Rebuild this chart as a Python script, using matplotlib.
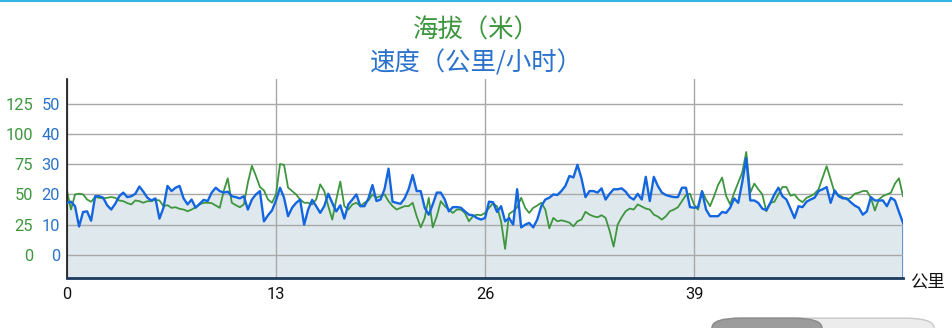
import matplotlib
matplotlib.use("Agg")
import matplotlib.pyplot as plt
import numpy as np
from matplotlib.patches import FancyBboxPatch
from matplotlib.lines import Line2D

# distance samples (km), every 0.25 km
km = np.arange(0, 52.0001, 0.25)

# speed (km/h), blue series
speed = [
    17.2, 17.6, 16.1, 9.4, 14.2, 14.4, 11.3, 19.4, 19.4, 18.9,
    16.4, 15.0, 16.9, 19.4, 20.6, 19.1, 19.4, 20.2, 22.6, 20.9,
    18.9, 18.0, 18.7, 12.0, 15.6, 22.8, 21.1, 22.2, 22.8, 18.7,
    16.7, 18.3, 15.6, 16.9, 18.2, 17.8, 20.6, 22.2, 21.1, 20.6,
    20.9, 19.4, 19.1, 18.7, 19.4, 15.0, 18.3, 20.0, 21.1, 11.1,
    13.1, 14.7, 18.0,
    22.2, 18.9, 12.8, 15.6, 17.2, 18.3, 10.0, 15.0, 18.2, 16.1,
    13.9, 16.1, 20.2, 17.2, 14.4, 16.4, 12.0, 16.7, 18.3, 20.0,
    16.1, 16.1, 18.7, 23.1, 17.8, 18.3, 21.7, 28.5, 17.6, 17.2,
    16.9, 18.7, 21.7, 26.4, 21.1, 21.1, 15.6, 13.3, 16.7, 20.6,
    20.6, 18.3, 14.4, 15.8, 15.8, 15.6, 14.4, 13.3, 13.1, 12.2,
    11.7, 12.2,
    17.6, 17.4, 14.2, 16.1, 11.1, 12.2, 10.0, 21.7, 9.1, 10.0,
    10.6, 9.1, 11.7, 16.1, 18.3, 18.9, 20.0, 19.8, 21.1, 22.8,
    26.1, 25.6, 29.8, 25.3, 19.1, 21.1, 21.1, 20.6, 22.0, 18.3,
    20.2, 21.7, 21.7, 22.0, 20.9, 19.1, 18.3, 20.2, 18.3, 25.8,
    17.8, 25.8, 22.8, 20.6, 19.8, 19.4, 19.1, 19.1, 22.2, 22.2,
    15.8, 15.6,
    15.8, 21.0, 15.0, 12.8, 12.8, 12.8, 14.2, 13.9, 15.6, 18.7,
    17.2, 24.0, 32.0, 18.0, 18.0, 17.2, 15.3, 14.8, 17.2, 20.0,
    22.2, 19.4, 18.3, 15.3, 12.2, 16.1, 15.8, 17.6, 18.3, 18.9,
    21.1, 21.7, 22.4, 17.2, 21.3, 19.4, 18.7, 18.7, 17.4, 16.3,
    15.6, 13.3, 14.4, 19.1, 18.0, 18.0, 18.0, 16.1, 18.9, 18.0,
    14.2, 10.6,
]

# elevation (m), green series
elevation = [
    52.8, 37.5, 50.0, 50.6, 50.0, 45.8, 43.9, 47.8, 47.2, 46.7,
    47.2, 47.8, 47.2, 45.0, 44.4, 42.8, 41.7, 45.0, 44.4, 43.1,
    44.4, 44.4, 45.6, 45.0, 40.3, 41.1, 38.9, 39.4, 38.1, 37.5,
    36.1, 37.5, 39.4, 41.7, 43.1, 43.1, 42.8, 40.8, 38.9, 52.8,
    63.3, 43.1, 41.1, 39.4, 41.7, 59.7, 73.6, 65.3, 56.1, 53.3,
    45.8, 43.1, 50.0,
    75.0, 74.4, 55.6, 52.8, 50.0, 45.8, 43.1, 43.1, 41.7, 45.8,
    58.3, 52.8, 40.3, 29.2, 45.8, 60.6, 40.3, 37.5, 41.7, 43.1,
    40.3, 43.1, 45.0, 50.0, 47.2, 48.6, 50.0, 44.4, 40.3, 37.5,
    38.9, 40.3, 40.3, 43.1, 31.9, 22.8, 30.6, 47.2, 22.8, 31.9,
    44.4, 40.3, 37.5, 34.7, 37.5, 37.5, 34.7, 27.8, 31.9, 33.3,
    32.8, 34.7,
    38.9, 42.8, 40.0, 27.8, 5.0, 33.9, 36.1, 39.4, 47.2, 38.9,
    34.7, 38.9, 40.8, 43.1, 37.5, 22.0, 30.6, 27.8, 28.6, 27.8,
    26.7, 23.6, 27.8, 29.2, 35.6, 33.3, 31.9, 31.1, 32.8, 30.6,
    20.0, 6.9, 25.0, 31.1, 36.1, 38.3, 37.5, 41.7, 40.0, 38.3,
    37.5, 33.3, 31.7, 29.2, 31.9, 36.1, 37.5, 39.4, 44.4, 49.4,
    50.6, 41.7,
    37.5, 52.8, 45.8, 40.3, 48.6, 57.8, 63.9, 48.6, 41.7, 51.4,
    59.7, 68.0, 85.0, 51.4, 58.9, 54.2, 50.0, 36.1, 43.1, 43.9,
    50.0, 56.1, 56.1, 48.9, 50.0, 45.8, 43.6, 47.2, 48.6, 50.6,
    54.2, 63.9, 73.3, 62.5, 51.4, 49.4, 47.8, 45.8, 47.2, 50.6,
    51.4, 52.8, 52.8, 47.2, 36.7, 45.8, 48.6, 50.0, 51.4, 58.9,
    63.3, 48.6,
]

x_ticks = [0, 13, 26, 39]
speed_ticks = [0, 10, 20, 30, 40, 50]
elev_ticks = [0, 25, 50, 75, 100, 125]

GREEN = "#3e963e"
BLUE = "#1466e0"
BLUE_TXT = "#2a72cc"
FILL = "#dfe9ed"

fig = plt.figure(figsize=(9.53, 3.28), dpi=100)
ax = fig.add_axes([67 / 953, 1 - 278.3 / 328, 836 / 953, 199 / 328])
ax2 = ax.twinx()

ylo, yhi = -7.7, 58.0
ax.set_ylim(ylo, yhi)
ax2.set_ylim(ylo * 2.5, yhi * 2.5)
ax.set_xlim(0, 52)

ax.set_axisbelow("line")
ax.fill_between(km, speed, ylo, color=FILL, zorder=0.5, lw=0)
ax.plot([52, 52], [ylo, speed[-1]], color="#4a86c8", lw=1.2, zorder=0.6)
ax.plot(km, elevation, color=GREEN, lw=1.3, zorder=2, transform=ax2.transData)
ax.plot(km, speed, color=BLUE, lw=1.7, zorder=3)

ax.set_xticks(x_ticks)
ax.set_yticks(speed_ticks)
ax.grid(True, color="#a8a8a8", lw=1)
ax.tick_params(length=0)
ax.tick_params(axis="y", pad=5, labelcolor=BLUE_TXT, labelsize=11.8)
ax.tick_params(axis="x", pad=6, labelcolor="#111111", labelsize=11.8)
for lab in ax.get_xticklabels() + ax.get_yticklabels():
    lab.set_family("Roboto")

ax2.yaxis.tick_left()
ax2.set_yticks(elev_ticks)
ax2.tick_params(length=0, pad=24.5, labelcolor=GREEN, labelsize=11.8)
for lab in ax2.get_yticklabels():
    lab.set_family("Roboto")

for a in (ax, ax2):
    a.spines["top"].set_visible(False)
    a.spines["right"].set_visible(False)
ax2.spines["left"].set_visible(False)
ax2.spines["bottom"].set_visible(False)
ax.spines["left"].set_color("#111111")
ax.spines["left"].set_linewidth(1.2)
ax.spines["bottom"].set_color("#1c3a5c")
ax.spines["bottom"].set_linewidth(2)

cjk = ["Noto Sans CJK SC", "DejaVu Sans"]
fig.text(0.5, 1 - 31 / 328, "海拔（米）", color=GREEN, fontsize=18.3,
         ha="center", va="center", family=cjk)
fig.text(0.5, 1 - 63.5 / 328, "速度（公里/小时）", color=BLUE_TXT, fontsize=18.3,
         ha="center", va="center", family=cjk)
fig.text(927 / 953, 1 - 281 / 328, "公里", color="#111111", fontsize=12.5,
         ha="center", va="center", family=cjk)

# top border and the button at the bottom edge of the screenshot
fig.add_artist(Line2D([0, 1], [0.998, 0.998], color="#33b5e5", lw=1.5))
fig.add_artist(FancyBboxPatch((712 / 953, -0.05), 222 / 953, 0.08,
                              boxstyle="round,pad=0,rounding_size=0.03",
                              fc="#ececec", ec="#c8c8c8", lw=1))
fig.add_artist(FancyBboxPatch((712 / 953, -0.05), 110 / 953, 0.08,
                              boxstyle="round,pad=0,rounding_size=0.03",
                              fc="#9c9c9c", ec="#8a8a8a", lw=1))

fig.savefig("out.png", dpi=100)
